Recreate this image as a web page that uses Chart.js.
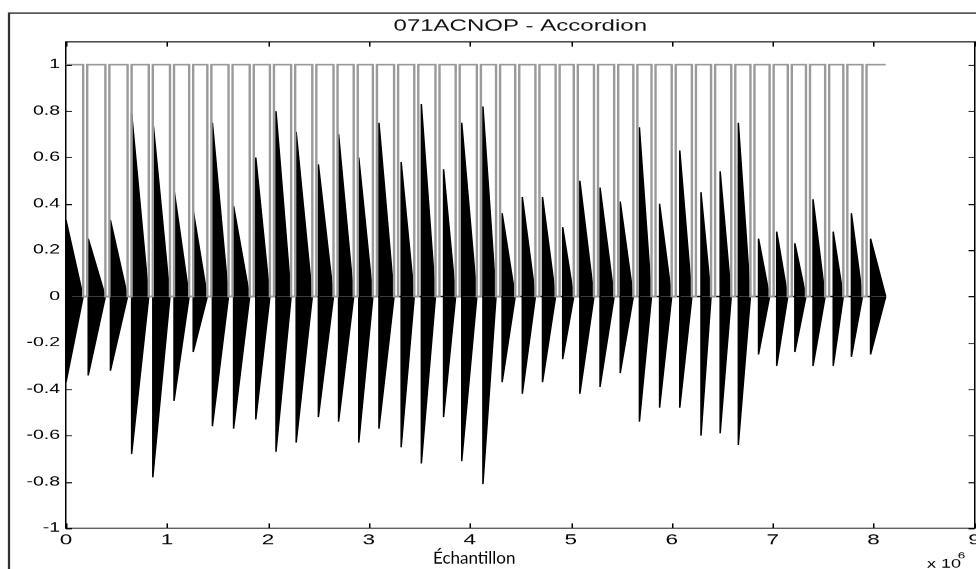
<!DOCTYPE html>
<html>
<head>
<meta charset="utf-8">
<script src="https://cdn.jsdelivr.net/npm/chart.js@4.4.1/dist/chart.umd.min.js"></script>
<style>
  html, body { margin: 0; padding: 0; background: #fff; overflow: hidden; }
  /* the scanned figure is stretched sideways, so the whole chart is drawn narrow and widened */
  #wrap { position: absolute; left: 0; top: 0; width: 651px; height: 569px; transform: scaleX(1.49923); transform-origin: 0 0; }
</style>
</head>
<body>
<div id="wrap"><canvas id="sig"></canvas></div>
<script>
const STRETCH = 976 / 651;

// note onsets, in samples x 1e6
const noteStart = [0.00, 0.22, 0.44, 0.65, 0.86, 1.07, 1.26, 1.45, 1.66, 1.88,
  2.08, 2.28, 2.50, 2.70, 2.90, 3.10, 3.32, 3.52, 3.74, 3.92,
  4.13, 4.32, 4.52, 4.72, 4.92, 5.09, 5.29, 5.49, 5.68, 5.88,
  6.08, 6.29, 6.48, 6.66, 6.86, 7.04, 7.22, 7.40, 7.60, 7.78, 7.97];
// positive and negative peak of each note
const peakPos = [0.33, 0.25, 0.33, 0.79, 0.76, 0.46, 0.37, 0.75, 0.39, 0.60,
  0.80, 0.71, 0.57, 0.70, 0.60, 0.75, 0.58, 0.83, 0.55, 0.75,
  0.82, 0.36, 0.43, 0.43, 0.30, 0.50, 0.47, 0.41, 0.73, 0.40,
  0.63, 0.45, 0.54, 0.75, 0.25, 0.28, 0.23, 0.42, 0.28, 0.36, 0.25];
const peakNeg = [-0.37, -0.34, -0.32, -0.68, -0.78, -0.45, -0.24, -0.56, -0.57, -0.53,
  -0.67, -0.63, -0.52, -0.54, -0.63, -0.57, -0.65, -0.72, -0.52, -0.71,
  -0.81, -0.37, -0.42, -0.37, -0.27, -0.42, -0.39, -0.33, -0.54, -0.48,
  -0.48, -0.60, -0.59, -0.64, -0.25, -0.30, -0.24, -0.30, -0.30, -0.26, -0.25];
// gate signal: drops to 0 between notes
const gateOff = [0.17, 0.39, 0.61, 0.82, 1.03, 1.22, 1.40, 1.61, 1.82, 2.02,
  2.23, 2.44, 2.65, 2.85, 3.04, 3.25, 3.45, 3.66, 3.86, 4.07,
  4.26, 4.45, 4.65, 4.85, 5.03, 5.23, 5.43, 5.62, 5.80, 6.00,
  6.20, 6.39, 6.59, 6.78, 6.97, 7.15, 7.33, 7.52, 7.70, 7.89];
const gateOn = [0.21, 0.43, 0.65, 0.86, 1.07, 1.26, 1.44, 1.65, 1.86, 2.06,
  2.27, 2.48, 2.69, 2.89, 3.08, 3.29, 3.49, 3.70, 3.90, 4.11,
  4.30, 4.49, 4.69, 4.89, 5.07, 5.27, 5.47, 5.66, 5.84, 6.04,
  6.24, 6.43, 6.63, 6.82, 7.01, 7.19, 7.37, 7.56, 7.74, 7.93];
const signalEnd = 8.12;

const xTicks = [0, 1, 2, 3, 4, 5, 6, 7, 8, 9];
const xTickLabels = ['0', '1', '2', '3', '4', '5', '6', '7', '8', '9'];
const yTicks = [-1, -0.8, -0.6, -0.4, -0.2, 0, 0.2, 0.4, 0.6, 0.8, 1];
const yTickLabels = ['-1', '-0.8', '-0.6', '-0.4', '-0.2', '0', '0.2', '0.4', '0.6', '0.8', '1'];

const titleText = '071ACNOP - Accordion';
const xTitle = 'Échantillon';

function envelope(peaks) {
  const pts = [];
  noteStart.forEach((s, i) => {
    const end = i < gateOff.length ? gateOff[i] : signalEnd;
    pts.push({ x: s, y: 0 }, { x: s, y: peaks[i] }, { x: end, y: 0 });
  });
  return pts;
}

function gateLine() {
  const pts = [{ x: 0, y: 1 }];
  gateOff.forEach((off, i) => {
    pts.push({ x: off, y: 1 }, { x: off, y: 0 }, { x: gateOn[i], y: 0 }, { x: gateOn[i], y: 1 });
  });
  pts.push({ x: signalEnd, y: 1 });
  return pts;
}

const FONT = '"Liberation Sans", Arial, sans-serif';

const figurePlugin = {
  id: 'figure',
  afterDraw(chart) {
    const { ctx, chartArea: a, scales } = chart;
    ctx.save();
    // outer figure frame
    ctx.strokeStyle = '#333';
    ctx.lineWidth = 1.5;
    ctx.beginPath();
    ctx.moveTo(6, 569);
    ctx.lineTo(6, 13);
    ctx.lineTo(651, 13);
    ctx.stroke();

    // title
    ctx.fillStyle = '#111';
    ctx.font = '16px ' + FONT;
    ctx.textAlign = 'center';
    ctx.textBaseline = 'middle';
    ctx.fillText(titleText, (a.left + a.right) / 2, 26.5);

    // inward tick marks on all four sides
    ctx.strokeStyle = '#000';
    ctx.lineWidth = 1;
    ctx.beginPath();
    scales.x.ticks.forEach((t) => {
      const px = Math.round(scales.x.getPixelForValue(t.value)) + 0.5;
      ctx.moveTo(px, a.bottom); ctx.lineTo(px, a.bottom - 5);
      ctx.moveTo(px, a.top); ctx.lineTo(px, a.top + 5);
    });
    scales.y.ticks.forEach((t) => {
      const py = Math.round(scales.y.getPixelForValue(t.value)) + 0.5;
      ctx.moveTo(a.left, py); ctx.lineTo(a.left + 4, py);
      ctx.moveTo(a.right, py); ctx.lineTo(a.right - 4, py);
    });
    ctx.stroke();

    // exponent label
    ctx.fillStyle = '#000';
    ctx.textAlign = 'left';
    ctx.textBaseline = 'alphabetic';
    ctx.font = '12px ' + FONT;
    ctx.fillText('x 10', 618, 567);
    ctx.font = '9px ' + FONT;
    ctx.fillText('6', 638.5, 558);

    // x axis title, drawn unstretched
    ctx.translate(474 / STRETCH, 563);
    ctx.scale(1 / STRETCH, 1);
    ctx.font = '17px Lato, "Open Sans", sans-serif';
    ctx.textAlign = 'center';
    ctx.fillText(xTitle, 0, 0);
    ctx.restore();
  }
};

new Chart(document.getElementById('sig'), {
  type: 'line',
  data: {
    datasets: [
      { label: 'gate', data: gateLine(), borderColor: '#9a9a9a', borderWidth: 1.6, fill: false, order: 0 },
      { label: 'pos', data: envelope(peakPos), borderColor: '#000', backgroundColor: '#000', borderWidth: 1, fill: 'origin', order: 1 },
      { label: 'neg', data: envelope(peakNeg), borderColor: '#000', backgroundColor: '#000', borderWidth: 1, fill: 'origin', order: 1 }
    ]
  },
  options: {
    animation: false,
    responsive: true,
    maintainAspectRatio: false,
    devicePixelRatio: 1.5,
    layout: { padding: { top: 41.5, right: 1.3, bottom: 0, left: 0 } },
    elements: { point: { radius: 0 }, line: { tension: 0 } },
    plugins: { legend: { display: false }, tooltip: { enabled: false } },
    scales: {
      x: {
        type: 'linear', min: 0, max: 9,
        afterBuildTicks: (s) => { s.ticks = xTicks.map((v) => ({ value: v })); },
        afterFit: (s) => { s.height = 41; s.paddingLeft = 0; s.paddingRight = 0; },
        ticks: { autoSkip: false, maxRotation: 0, padding: 3, color: '#000',
          font: { family: FONT, size: 15 }, callback: (v, i) => xTickLabels[i] },
        grid: { display: false, drawTicks: false },
        border: { display: true, color: '#000', width: 1 }
      },
      y: {
        min: -1, max: 1.1,
        afterBuildTicks: (s) => { s.ticks = yTicks.map((v) => ({ value: v })); },
        afterFit: (s) => { s.width = 44; s.paddingTop = 0; s.paddingBottom = 0; },
        ticks: { autoSkip: false, padding: 4, color: '#000',
          font: { family: FONT, size: 13 }, callback: (v, i) => yTickLabels[i] },
        grid: { display: false, drawTicks: false },
        border: { display: true, color: '#000', width: 1 }
      },
      x2: {
        type: 'linear', position: 'top', min: 0, max: 9,
        afterFit: (s) => { s.height = 0; },
        ticks: { display: false }, grid: { display: false, drawTicks: false },
        border: { display: true, color: '#000', width: 1 }
      },
      y2: {
        position: 'right', min: -1, max: 1.1,
        afterFit: (s) => { s.width = 0; },
        ticks: { display: false }, grid: { display: false, drawTicks: false },
        border: { display: true, color: '#000', width: 1 }
      }
    }
  },
  plugins: [figurePlugin]
});
</script>
</body>
</html>
